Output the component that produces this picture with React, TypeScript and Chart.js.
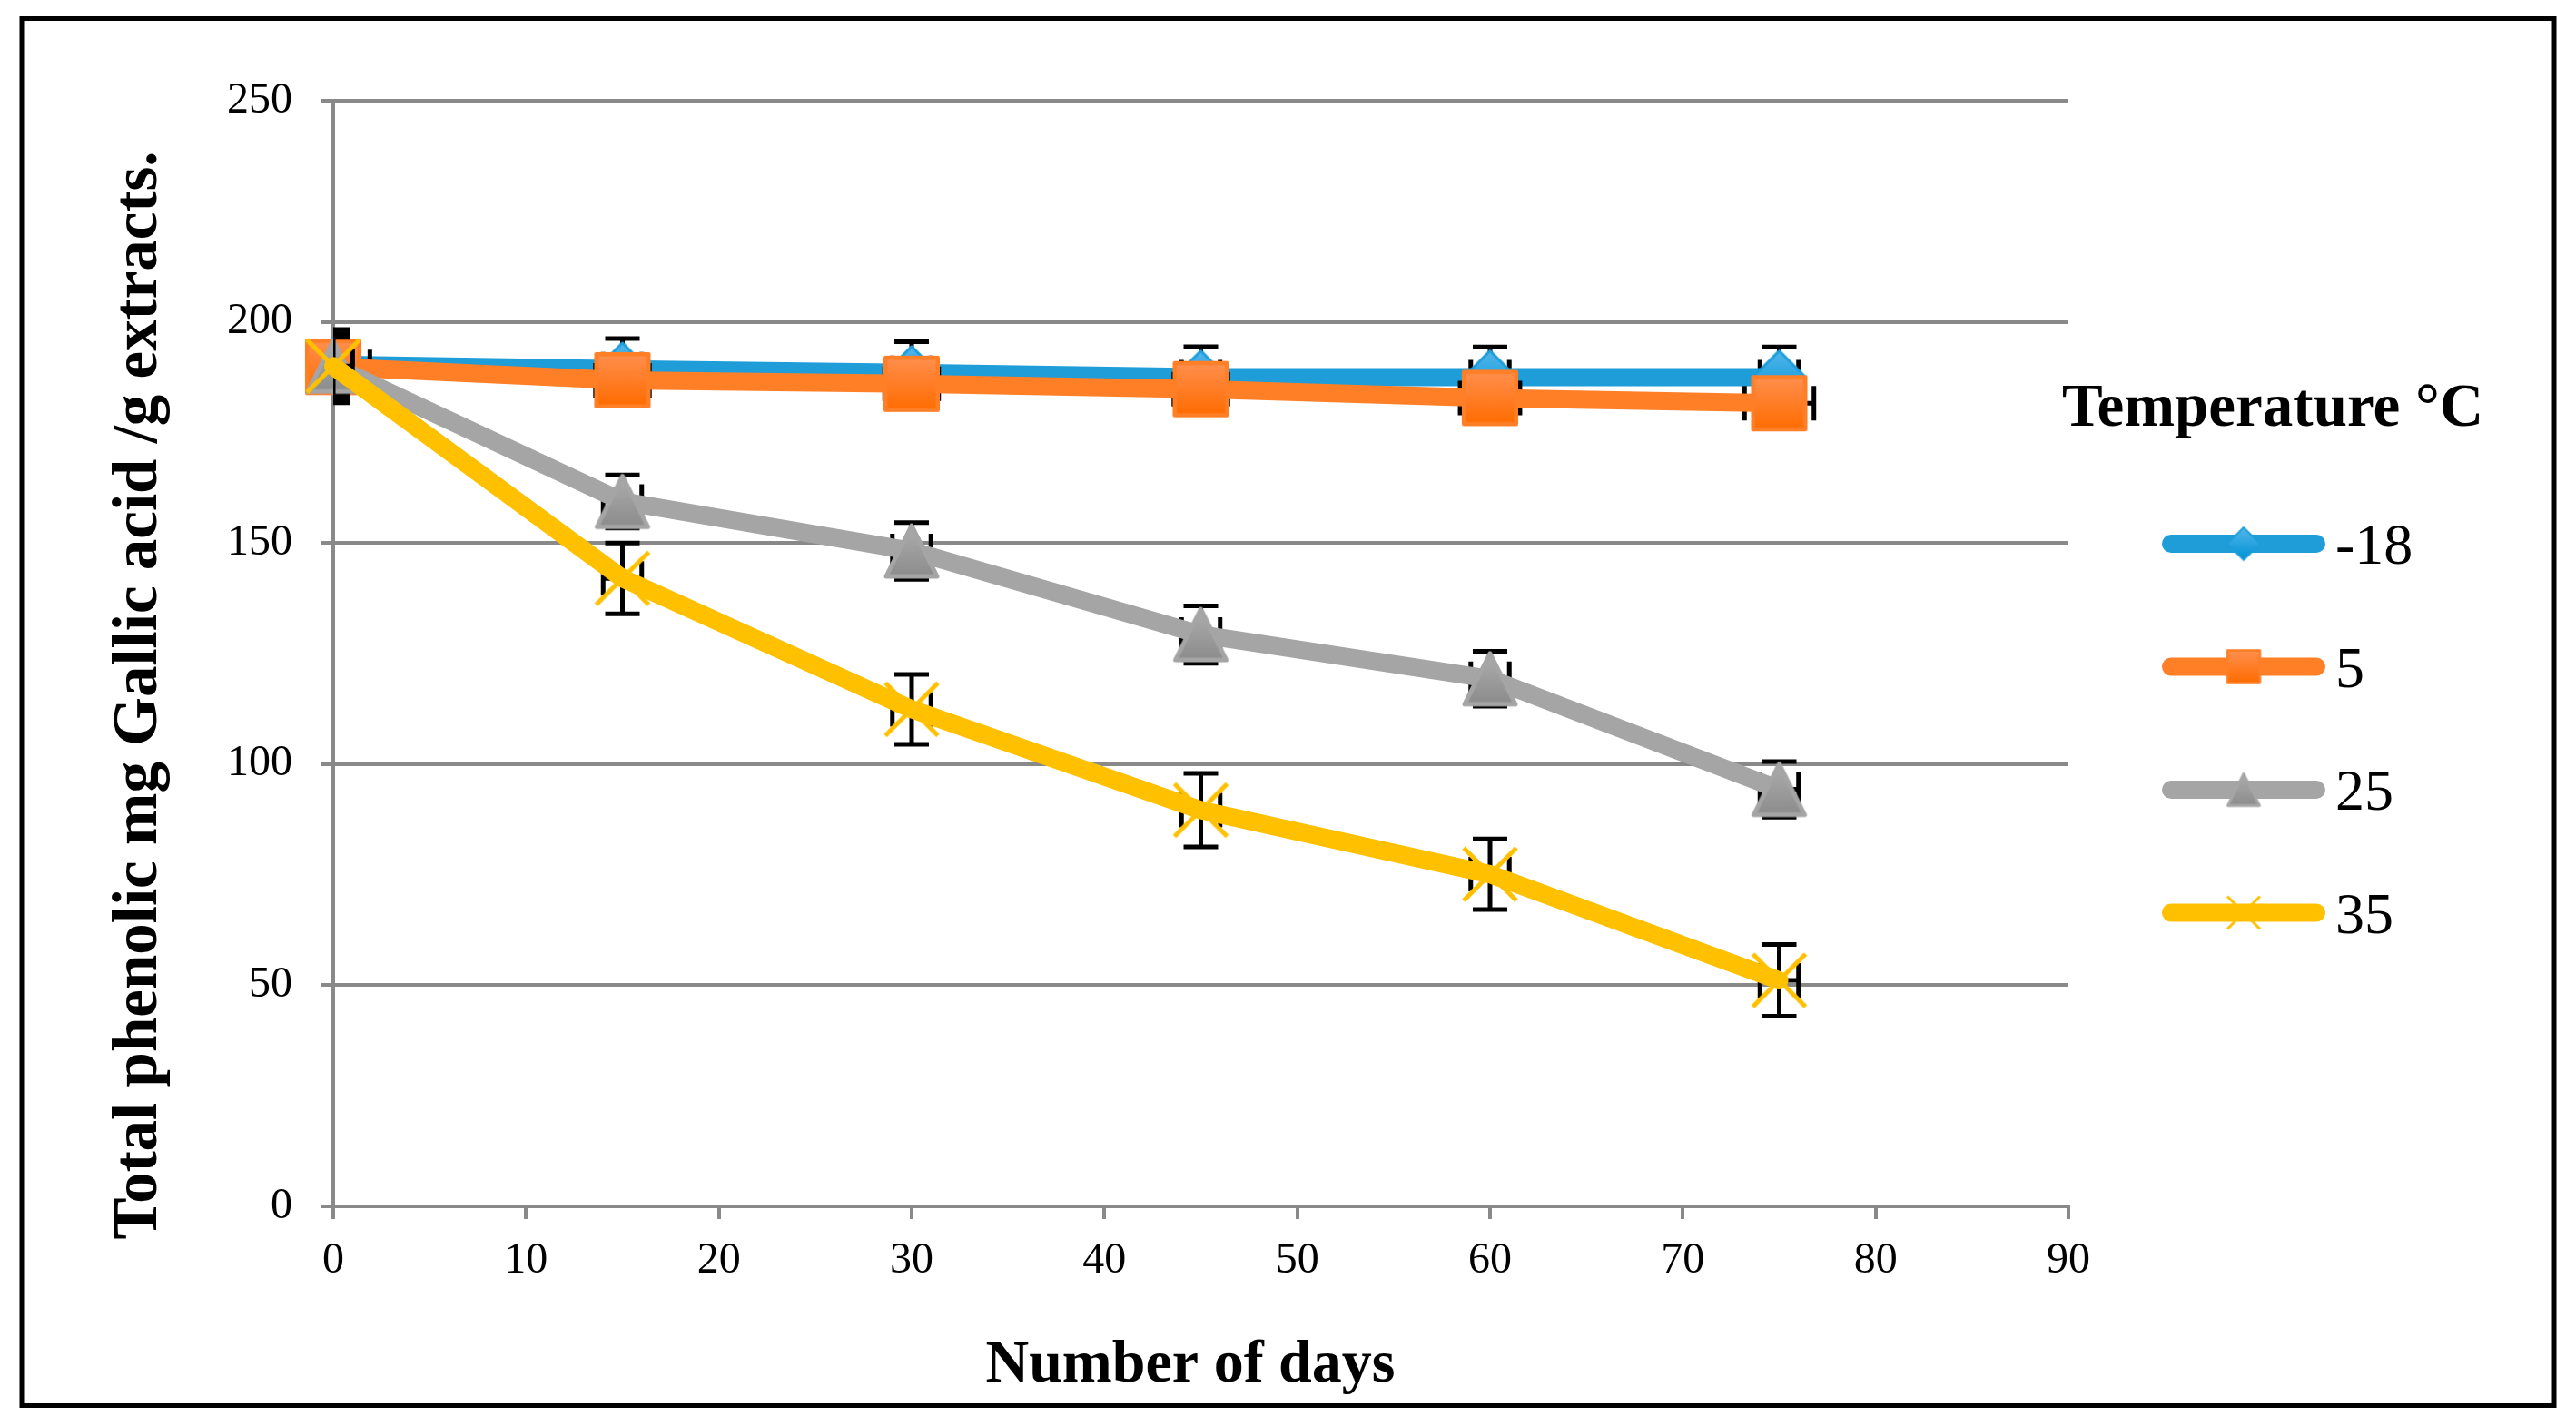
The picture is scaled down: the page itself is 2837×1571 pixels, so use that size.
import React, { useEffect, useRef } from "react";
import { Chart, registerables } from "chart.js";

Chart.register(...registerables);

// ---------- data ----------
const days = [0, 15, 30, 45, 60, 75];
const seriesLabels = ["-18", "5", "25", "35"];
const valuesMinus18 = [190.3, 189.3, 188.5, 187.5, 187.5, 187.5];
const values5 = [189.8, 186.8, 186.0, 184.8, 182.8, 181.6];
const values25 = [190.0, 159.4, 148.2, 129.3, 119.3, 94.3];
const values35 = [190.0, 142.0, 112.4, 89.6, 75.1, 51.1];
const yErrMinus18 = [7.0, 6.9, 7.0, 6.9, 6.8, 6.8];
const yErr5 = [7.5, 5.0, 5.0, 5.0, 5.0, 5.0];
const yErr25 = [6.5, 6.0, 6.4, 6.5, 6.2, 6.3];
const yErr35 = [8.3, 8.0, 7.9, 8.3, 8.0, 8.1];
const xErrMinus18 = [1, 1, 1, 1, 1, 1];
const xErr5 = [1.9, 1.4, 1.4, 1.4, 1.55, 1.8];
const xErr25 = [1, 1, 1, 1, 1, 1];
const xErr35 = [1, 1, 1, 1, 1, 1];
const xTickValues = [0, 10, 20, 30, 40, 50, 60, 70, 80, 90];
const yTickValues = [0, 50, 100, 150, 200, 250];
const xTitle = "Number of days";
const yTitle = "Total phenolic mg Gallic acid /g extracts.";
const legendTitle = "Temperature \u00B0C";

const SERIF = '"Liberation Serif", "Times New Roman", serif';
const GRID = "#898989";

const seriesValues = [valuesMinus18, values5, values25, values35];
const seriesYErr = [yErrMinus18, yErr5, yErr25, yErr35];
const seriesXErr = [xErrMinus18, xErr5, xErr25, xErr35];
const seriesColors = ["#1E9DD9", "#FF7F27", "#A5A5A5", "#FFC000"];
const seriesKinds = ["diamond", "square", "triangle", "cross"];

function makeMarker(kind: string, scale: number): HTMLCanvasElement {
  const S = Math.round(70 * scale);
  const c = document.createElement("canvas");
  c.width = S;
  c.height = S;
  const ctx = c.getContext("2d") as CanvasRenderingContext2D;
  const cx = S / 2;
  const cy = S / 2;
  ctx.lineJoin = "round";
  if (kind === "diamond") {
    const r = 29 * scale;
    const g = ctx.createLinearGradient(0, cy - r, 0, cy + r);
    g.addColorStop(0, "#52B6EA");
    g.addColorStop(1, "#0092D5");
    ctx.beginPath();
    ctx.moveTo(cx, cy - r);
    ctx.lineTo(cx + r, cy);
    ctx.lineTo(cx, cy + r);
    ctx.lineTo(cx - r, cy);
    ctx.closePath();
    ctx.fillStyle = g;
    ctx.fill();
    ctx.lineWidth = 3 * scale;
    ctx.strokeStyle = "#1E9DD9";
    ctx.stroke();
  } else if (kind === "square") {
    const h = 28.8 * scale;
    const g = ctx.createLinearGradient(0, cy - h, 0, cy + h);
    g.addColorStop(0, "#FF8F4E");
    g.addColorStop(1, "#FF6C00");
    ctx.beginPath();
    ctx.rect(cx - h, cy - h, 2 * h, 2 * h);
    ctx.fillStyle = g;
    ctx.fill();
    ctx.lineWidth = 4.5 * scale;
    ctx.strokeStyle = "#FF7F27";
    ctx.stroke();
  } else if (kind === "triangle") {
    const h = 28 * scale;
    const g = ctx.createLinearGradient(0, cy - h, 0, cy + h);
    g.addColorStop(0, "#ADADAD");
    g.addColorStop(1, "#8C8C8C");
    ctx.beginPath();
    ctx.moveTo(cx, cy - h);
    ctx.lineTo(cx + h, cy + h);
    ctx.lineTo(cx - h, cy + h);
    ctx.closePath();
    ctx.fillStyle = g;
    ctx.fill();
    ctx.lineWidth = 5 * scale;
    ctx.strokeStyle = "#A5A5A5";
    ctx.stroke();
  } else {
    const h = 29 * scale;
    ctx.beginPath();
    ctx.moveTo(cx - h, cy - h);
    ctx.lineTo(cx + h, cy + h);
    ctx.moveTo(cx + h, cy - h);
    ctx.lineTo(cx - h, cy + h);
    ctx.lineWidth = 5 * scale;
    ctx.lineCap = "butt";
    ctx.strokeStyle = "#FFC000";
    ctx.stroke();
  }
  return c;
}

const errorBarPlugin = {
  id: "errorBars",
  beforeDatasetDraw(chart: any, args: any) {
    const i = args.index;
    const vals = seriesValues[i];
    const ye = seriesYErr[i];
    const xe = seriesXErr[i];
    const { ctx, chartArea, scales } = chart;
    const xs = scales.x;
    const ys = scales.y;
    const cap = 19;
    ctx.save();
    ctx.beginPath();
    ctx.rect(chartArea.left, chartArea.top, chartArea.right - chartArea.left, chartArea.bottom - chartArea.top);
    ctx.clip();
    ctx.strokeStyle = "#000";
    ctx.lineWidth = 5;
    ctx.lineCap = "butt";
    days.forEach((d, k) => {
      const px = xs.getPixelForValue(d);
      const py = ys.getPixelForValue(vals[k]);
      const t = ys.getPixelForValue(vals[k] + ye[k]);
      const b = ys.getPixelForValue(vals[k] - ye[k]);
      const l = xs.getPixelForValue(d - xe[k]);
      const r = xs.getPixelForValue(d + xe[k]);
      ctx.beginPath();
      ctx.moveTo(px, t);
      ctx.lineTo(px, b);
      ctx.moveTo(px - cap, t);
      ctx.lineTo(px + cap, t);
      ctx.moveTo(px - cap, b);
      ctx.lineTo(px + cap, b);
      ctx.moveTo(l, py);
      ctx.lineTo(r, py);
      ctx.moveTo(l, py - cap);
      ctx.lineTo(l, py + cap);
      ctx.moveTo(r, py - cap);
      ctx.lineTo(r, py + cap);
      ctx.stroke();
    });
    ctx.restore();
  },
};

function makeDecorPlugin(legendMarkers: HTMLCanvasElement[]) {
  return {
    id: "decor",
    afterDraw(chart: any) {
      const { ctx } = chart;
      ctx.save();
      // outer frame
      ctx.strokeStyle = "#000";
      ctx.lineWidth = 5;
      ctx.strokeRect(24, 20.5, 2813 - 24, 1548.5 - 20.5);

      ctx.fillStyle = "#000";
      // x title
      ctx.font = `bold 66px ${SERIF}`;
      ctx.textAlign = "center";
      ctx.textBaseline = "alphabetic";
      ctx.fillText(xTitle, 1311, 1522);

      // y title
      ctx.save();
      ctx.font = `bold 69px ${SERIF}`;
      ctx.translate(172, 766);
      ctx.rotate(-Math.PI / 2);
      ctx.fillText(yTitle, 0, 0);
      ctx.restore();

      // legend
      ctx.textAlign = "left";
      ctx.font = `bold 67px ${SERIF}`;
      ctx.fillText(legendTitle, 2271, 469);
      ctx.font = `64px ${SERIF}`;
      seriesLabels.forEach((lab, i) => {
        const y = 599 + i * 135.5;
        ctx.beginPath();
        ctx.moveTo(2391, y);
        ctx.lineTo(2551, y);
        ctx.lineWidth = 20;
        ctx.lineCap = "round";
        ctx.strokeStyle = seriesColors[i];
        ctx.stroke();
        const m = legendMarkers[i];
        ctx.drawImage(m, 2471 - m.width / 2, y - m.height / 2);
        ctx.fillStyle = "#000";
        ctx.fillText(lab, 2572, y + 22);
      });
      ctx.restore();
    },
  };
}

export default function App() {
  const ref = useRef<HTMLCanvasElement | null>(null);
  useEffect(() => {
    const canvas = ref.current;
    if (!canvas) return;
    const plotMarkers = seriesKinds.map((k) => makeMarker(k, 1));
    const legendMarkers = seriesKinds.map((k) => makeMarker(k, 0.62));
    const tickFont = { family: SERIF, size: 48 };
    const chart = new Chart(canvas, {
      type: "line",
      data: {
        datasets: seriesLabels.map((lab, i) => ({
          label: lab,
          data: days.map((d, k) => ({ x: d, y: seriesValues[i][k] })),
          borderColor: seriesColors[i],
          backgroundColor: seriesColors[i],
          borderWidth: 20,
          borderCapStyle: "round",
          borderJoinStyle: "round",
          tension: 0,
          pointStyle: plotMarkers[i] as any,
          pointRadius: 30,
          pointHoverRadius: 30,
          clip: false as any,
          order: seriesLabels.length - i,
        })),
      },
      options: {
        responsive: false,
        animation: false,
        events: [],
        layout: { padding: { left: 0, top: 111, right: 559, bottom: 0 } },
        plugins: {
          legend: { display: false },
          tooltip: { enabled: false },
          title: { display: false },
        },
        scales: {
          x: {
            type: "linear",
            min: xTickValues[0],
            max: xTickValues[xTickValues.length - 1],
            afterBuildTicks: (s: any) => {
              s.ticks = xTickValues.map((v) => ({ value: v }));
            },
            afterFit: (s: any) => {
              s.height = 242;
            },
            ticks: { font: tickFont, color: "#000", padding: 18, maxRotation: 0, autoSkip: false },
            grid: { drawOnChartArea: false, drawTicks: true, tickLength: 14, color: GRID, lineWidth: 4 },
            border: { display: true, color: GRID, width: 4 },
          },
          y: {
            type: "linear",
            min: yTickValues[0],
            max: yTickValues[yTickValues.length - 1],
            afterBuildTicks: (s: any) => {
              s.ticks = yTickValues.map((v) => ({ value: v }));
            },
            afterFit: (s: any) => {
              s.width = 367;
            },
            ticks: { font: tickFont, color: "#000", padding: 31, autoSkip: false },
            grid: { drawTicks: true, tickLength: 14, color: GRID, lineWidth: 4 },
            border: { display: true, color: GRID, width: 4 },
          },
        },
      } as any,
      plugins: [errorBarPlugin, makeDecorPlugin(legendMarkers)],
    });
    return () => chart.destroy();
  }, []);
  return (
    <canvas
      ref={ref}
      width={2837}
      height={1571}
      style={{ position: "fixed", left: 0, top: 0, display: "block", background: "#fff" }}
    />
  );
}
